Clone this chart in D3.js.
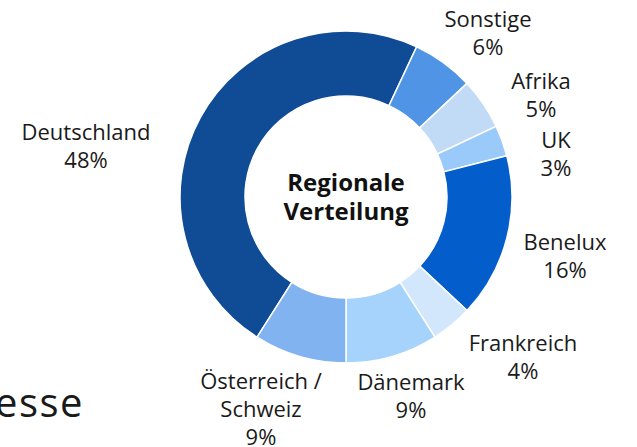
<!DOCTYPE html>
<html>
<head>
<meta charset="utf-8">
<script src="https://cdn.jsdelivr.net/npm/d3@7"></script>
<style>
  html, body { margin: 0; padding: 0; background: #fff; }
  svg { display: block; font-family: "Open Sans", "Noto Sans", sans-serif; }
</style>
</head>
<body>
<div id="chart"></div>
<script>
// regions in clockwise order, starting at the Deutschland slice
const regions = ["Deutschland", "Sonstige", "Afrika", "UK", "Benelux", "Frankreich", "Dänemark", "Österreich / Schweiz"];
const shares = [48, 6, 5, 3, 16, 4, 9, 9];
const colors = ["#104c96", "#4f94e5", "#c1daf6", "#99caf9", "#035ecc", "#d2e7fc", "#a6d3fb", "#80b3f0"];

const width = 637;
const height = 447;
const cx = 346, cy = 197;
const outerR = 166, innerR = 101;

// label anchor (centre x, first baseline) per region
const labelPos = {
  "Deutschland": [86, 140],
  "Sonstige": [488, 27],
  "Afrika": [541, 89],
  "UK": [556, 148],
  "Benelux": [565, 250],
  "Frankreich": [523, 351],
  "Dänemark": [411, 390],
  "Österreich / Schweiz": [261, 389]
};

const data = regions.map((r, i) => ({ region: r, share: shares[i], color: colors[i] }));

const svg = d3.select('#chart')
  .append('svg')
  .attr('width', width)
  .attr('height', height);

// Deutschland starts at 212.4deg so that Dänemark ends straight down
const start = (212.4 / 180) * Math.PI;
const pie = d3.pie()
  .value(d => d.share)
  .sort(null)
  .startAngle(start)
  .endAngle(start + 2 * Math.PI);

const arc = d3.arc()
  .innerRadius(innerR)
  .outerRadius(outerR);

const g = svg.append('g')
  .attr('transform', `translate(${cx},${cy})`);

g.selectAll('path')
  .data(pie(data))
  .enter()
  .append('path')
  .attr('d', arc)
  .attr('fill', d => d.data.color)
  .attr('stroke', '#fff')
  .attr('stroke-width', 1.5);

// centre title
g.append('text')
  .attr('text-anchor', 'middle')
  .attr('font-size', 24)
  .attr('font-weight', 700)
  .attr('fill', '#111')
  .selectAll('tspan')
  .data(["Regionale", "Verteilung"])
  .enter()
  .append('tspan')
  .attr('x', 0)
  .attr('y', (d, i) => -6 + i * 29)
  .text(d => d);

// labels
const labels = svg.selectAll('.label')
  .data(data)
  .enter()
  .append('text')
  .attr('class', 'label')
  .attr('text-anchor', 'middle')
  .attr('font-size', 22)
  .attr('fill', '#1a1a1a');

labels.each(function(d) {
  const lines = d.region.replace(" / ", " /\n").split("\n").concat([d.share + "%"]);
  const [x, y] = labelPos[d.region];
  d3.select(this).selectAll('tspan')
    .data(lines)
    .enter()
    .append('tspan')
    .attr('x', x)
    .attr('y', (l, i) => y + i * 28)
    .text(l => l);
});

// clipped text from the slide at the bottom left, only "esse" visible
const cut = svg.append('text')
  .attr('y', 417)
  .attr('font-size', 40)
  .attr('letter-spacing', 1.5)
  .attr('fill', '#1a1a1a')
  .text("Adr");
const preW = cut.node().getComputedTextLength();
cut.attr('x', -5 - preW).text("Adresse");
</script>
</body>
</html>
